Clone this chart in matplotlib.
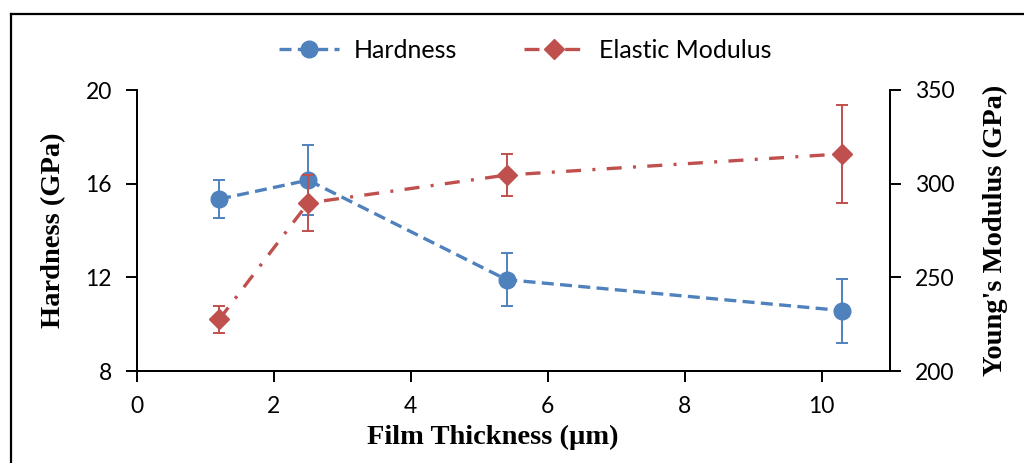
import matplotlib
matplotlib.use("Agg")
import matplotlib.pyplot as plt
from matplotlib.lines import Line2D

thickness = [1.2, 2.5, 5.4, 10.3]
hardness = [15.34, 16.15, 11.9, 10.58]
hardness_err = [0.8, 1.5, 1.13, 1.37]
modulus = [227.5, 289.7, 304.6, 315.9]
modulus_err = [7, 15, 11, 26]

blue = "#4F81BD"
red = "#C0504D"
tick_font = "Lato"
label_font = "Liberation Serif"

fig = plt.figure(figsize=(10.24, 4.63), dpi=100)
ax = fig.add_axes([137/1024, 1-371/463, (890-137)/1024, (371-90)/463])
ax2 = ax.twinx()

# outer frame (left + top visible)
fig.add_artist(Line2D([10.5/1024, 10.5/1024], [0, 1-13.5/463], transform=fig.transFigure, color="black", lw=1.6))
fig.add_artist(Line2D([10.5/1024, 1], [1-13.5/463, 1-13.5/463], transform=fig.transFigure, color="black", lw=1.6))

ax.errorbar(thickness, hardness, yerr=hardness_err, fmt="none", ecolor=blue, elinewidth=1.4, capsize=4.5, capthick=1.4, zorder=2)
lh, = ax.plot(thickness, hardness, color=blue, lw=2.4, dashes=(3.6, 1.9), marker="o", ms=12, markeredgecolor=blue, label="Hardness", zorder=3)

ax2.errorbar(thickness, modulus, yerr=modulus_err, fmt="none", ecolor=red, elinewidth=1.4, capsize=4.5, capthick=1.4, zorder=2)
lm, = ax2.plot(thickness, modulus, color=red, lw=2.4, dashes=(4.5, 3.4, 0.9, 3.4), marker="D", ms=10.5, markeredgecolor=red, label="Elastic Modulus", zorder=3)

ax.set_xlim(0, 11)
ax.set_ylim(8, 20)
ax.set_yticks([8, 12, 16, 20])
ax.set_xticks([0, 2, 4, 6, 8, 10])
ax2.set_ylim(200, 350)
ax2.set_yticks([200, 250, 300, 350])

for a in (ax, ax2):
    a.spines["top"].set_visible(False)
    for s in a.spines.values():
        s.set_linewidth(1.4)
    a.tick_params(direction="out", length=8, width=1.4, labelsize=16.5, pad=10)
    for lab in a.get_xticklabels() + a.get_yticklabels():
        lab.set_fontfamily(tick_font)
ax.tick_params(axis="x", pad=10)

ax.set_xlabel("Film Thickness (µm)", fontfamily=label_font, fontweight="bold", fontsize=20.5)
ax.xaxis.set_label_coords((493-137)/753, (371-425)/281)
ax.set_ylabel("Hardness (GPa)", fontfamily=label_font, fontweight="bold", fontsize=20.5, labelpad=14)
ax2.set_ylabel("Young's Modulus (GPa)", fontfamily=label_font, fontweight="bold", fontsize=20.5, labelpad=20)

leg = fig.legend(handles=[lh, lm], loc="center", bbox_to_anchor=(0.513, 1-50/463), ncol=2, frameon=False,
                 prop={"family": tick_font, "size": 18}, handlelength=2.4, columnspacing=2.7, handletextpad=0.6)

fig.savefig("out.png", dpi=100)
